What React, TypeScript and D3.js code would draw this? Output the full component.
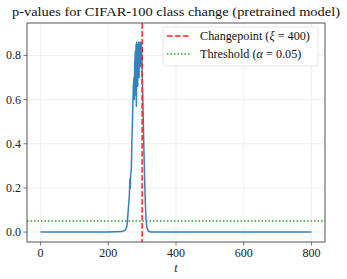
import { useEffect, useRef } from 'react';
import * as d3 from 'd3';

// p-value trace (t, p)
const tValues = [0, 100, 200, 240, 250, 255, 258, 262, 264, 265, 266, 268, 270, 272, 274, 276, 277, 278, 280, 281, 282, 283, 284, 285, 286, 287, 288, 289, 290, 291, 292, 293, 294, 295, 296, 297, 298, 299, 300, 302, 304, 306, 308, 310, 312, 314, 318, 325, 400, 600, 800];
const pValues = [0.0, 0.0, 0.0, 0.002, 0.008, 0.025, 0.08, 0.16, 0.24, 0.2, 0.26, 0.28, 0.42, 0.54, 0.66, 0.7, 0.6, 0.76, 0.82, 0.62, 0.85, 0.57, 0.86, 0.72, 0.84, 0.66, 0.85, 0.78, 0.86, 0.7, 0.84, 0.8, 0.86, 0.75, 0.85, 0.83, 0.86, 0.8, 0.74, 0.6, 0.46, 0.32, 0.2, 0.11, 0.05, 0.02, 0.005, 0.0, 0.0, 0.0, 0.0];

const xTicks = [0, 200, 400, 600, 800];
const yTicks = [0.0, 0.2, 0.4, 0.6, 0.8];
const changepoint = 300;
const threshold = 0.05;
const legendLabels = ['Changepoint', 'Threshold'];

const FONT = '"Liberation Serif", "DejaVu Serif", serif';

export default function App() {
  const ref = useRef<SVGSVGElement>(null);

  useEffect(() => {
    if (!ref.current) return;
    const svg = d3.select(ref.current);
    svg.selectAll('*').remove();

    const W = 347, H = 279;
    const left = 27, right = 325, top = 23, bottom = 242;

    const x = d3.scaleLinear().domain([-40, 840]).range([left, right]);
    const y = d3.scaleLinear().domain([-0.045, 0.947]).range([bottom, top]);

    svg.append('rect').attr('width', W).attr('height', H).attr('fill', '#fff');

    // grid
    const grid = svg.append('g').attr('stroke', '#ebebeb').attr('stroke-width', 0.8);
    xTicks.forEach(t => {
      grid.append('line').attr('x1', x(t)).attr('x2', x(t)).attr('y1', top).attr('y2', bottom);
    });
    yTicks.forEach(t => {
      grid.append('line').attr('x1', left).attr('x2', right).attr('y1', y(t)).attr('y2', y(t));
    });

    // threshold
    svg.append('line')
      .attr('x1', left).attr('x2', right)
      .attr('y1', y(threshold)).attr('y2', y(threshold))
      .attr('stroke', '#2ca02c').attr('stroke-width', 1.5)
      .attr('stroke-dasharray', '1.5,2');

    // p-value line
    const data = tValues.map((t, i) => [t, pValues[i]] as [number, number]);
    const line = d3.line<[number, number]>().x(d => x(d[0])).y(d => y(d[1])).curve(d3.curveLinear);
    svg.append('path')
      .datum(data)
      .attr('d', line)
      .attr('fill', 'none')
      .attr('stroke', '#3481bd')
      .attr('stroke-width', 1.5)
      .attr('stroke-linejoin', 'round');

    // changepoint
    svg.append('line')
      .attr('x1', x(changepoint)).attr('x2', x(changepoint))
      .attr('y1', top).attr('y2', bottom)
      .attr('stroke', '#ff1f1f').attr('stroke-width', 1.5)
      .attr('stroke-dasharray', '5.5,2.5');

    // frame
    svg.append('rect')
      .attr('x', left).attr('y', top)
      .attr('width', right - left).attr('height', bottom - top)
      .attr('fill', 'none').attr('stroke', '#555').attr('stroke-width', 1);

    // ticks
    const ticks = svg.append('g').attr('stroke', '#555').attr('stroke-width', 0.8);
    xTicks.forEach(t => {
      ticks.append('line').attr('x1', x(t)).attr('x2', x(t)).attr('y1', bottom).attr('y2', bottom + 3.5);
      svg.append('text').attr('x', x(t)).attr('y', bottom + 15)
        .attr('text-anchor', 'middle').attr('font-family', FONT).attr('font-size', 12)
        .attr('fill', '#222').text(String(t));
    });
    yTicks.forEach(t => {
      ticks.append('line').attr('x1', left - 3.5).attr('x2', left).attr('y1', y(t)).attr('y2', y(t));
      svg.append('text').attr('x', left - 6).attr('y', y(t) + 4)
        .attr('text-anchor', 'end').attr('font-family', FONT).attr('font-size', 12)
        .attr('fill', '#222').text(t.toFixed(1));
    });

    // axis label
    svg.append('text').attr('x', (left + right) / 2).attr('y', 272)
      .attr('text-anchor', 'middle').attr('font-family', FONT).attr('font-size', 12)
      .attr('font-style', 'italic').attr('fill', '#222').text('t');

    // title
    svg.append('text').attr('x', (left + right) / 2 - 0).attr('y', 16)
      .attr('text-anchor', 'middle').attr('font-family', FONT).attr('font-size', 13.5)
      .attr('fill', '#111').attr('textLength', 328).attr('lengthAdjust', 'spacingAndGlyphs')
      .text('p-values for CIFAR-100 class change (pretrained model)');

    // legend
    const lg = svg.append('g');
    lg.append('rect')
      .attr('x', 163).attr('y', 27).attr('width', 155).attr('height', 39).attr('rx', 2.5)
      .attr('fill', 'rgba(255,255,255,0.85)').attr('stroke', '#e0e0e0').attr('stroke-width', 0.8);
    const rows = [
      { y: 36, color: '#ff1f1f', dash: '5.5,2.5', label: legendLabels[0], sym: 'ξ', val: '400' },
      { y: 54, color: '#2ca02c', dash: '1.5,2', label: legendLabels[1], sym: 'α', val: '0.05' },
    ];
    rows.forEach(r => {
      lg.append('line').attr('x1', 167).attr('x2', 191).attr('y1', r.y).attr('y2', r.y)
        .attr('stroke', r.color).attr('stroke-width', 1.5).attr('stroke-dasharray', r.dash);
      const txt = lg.append('text').attr('x', 200).attr('y', r.y + 4)
        .attr('font-family', FONT).attr('font-size', 12.2).attr('fill', '#111');
      txt.append('tspan').text(`${r.label} (`);
      txt.append('tspan').attr('font-style', 'italic').text(r.sym);
      txt.append('tspan').text(` = ${r.val})`);
    });
  }, []);

  return (
    <svg ref={ref} width={347} height={279}
      style={{ position: 'absolute', left: 0, top: 0, display: 'block' }} />
  );
}
